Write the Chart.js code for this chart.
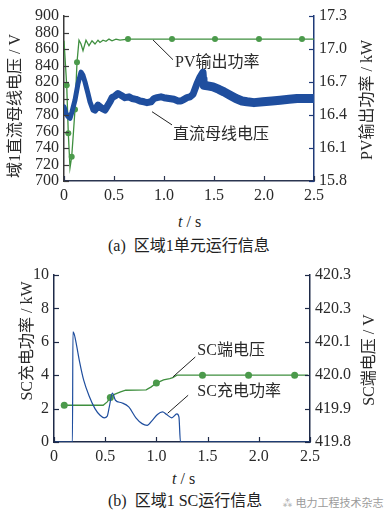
<!DOCTYPE html>
<html>
<head>
<meta charset="utf-8">
<script src="https://cdn.jsdelivr.net/npm/chart.js@4.4.1/dist/chart.umd.min.js"></script>
<style>
  body { margin: 0; background: #fff; }
  #wrap { position: relative; width: 392px; height: 516px; overflow: hidden;
          font-family: 'Liberation Serif', 'DejaVu Serif', 'Noto Sans CJK SC', serif; color: #222; }
  canvas { position: absolute; left: 0; }
  .lbl { position: absolute; white-space: nowrap; font-size: 16px; line-height: 1; }
  .wm { position: absolute; white-space: nowrap; font-size: 11px; color: #9a9a9a;
        font-family: 'Noto Sans CJK SC', sans-serif; }
</style>
</head>
<body>
<div id="wrap">
  <canvas id="topChart" width="392" height="205" style="top:0"></canvas>
  <div class="lbl" style="left:178px;top:214px"><i>t</i> / s</div>
  <div class="lbl" style="left:108px;top:238px">(a)&nbsp; 区域1单元运行信息</div>
  <canvas id="botChart" width="392" height="210" style="top:258px"></canvas>
  <div class="lbl" style="left:172px;top:471px"><i>t</i> / s</div>
  <div class="lbl" style="left:108px;top:493px">(b)&nbsp; 区域1 SC运行信息</div>
  <div class="wm" style="left:282px;top:494px">⁂ 电力工程技术杂志</div>
</div>
<script>
// ---- (a) 区域1单元运行信息 ----
const dcT = [0, 0.02, 0.04, 0.06, 0.08, 0.11, 0.14, 0.17, 0.19, 0.21, 0.24, 0.26, 0.29, 0.31,
  0.34, 0.36, 0.38, 0.41, 0.43, 0.46, 0.48, 0.51, 0.54, 0.57, 0.61, 0.65, 0.68, 0.72, 0.76,
  0.80, 0.83, 0.87, 0.90, 0.93, 0.97, 1.00, 1.05, 1.10, 1.14, 1.17, 1.20, 1.23, 1.26, 1.29,
  1.33, 1.36, 1.39, 1.395, 1.40, 1.45, 1.49, 1.55, 1.60, 1.66, 1.72, 1.78, 1.83, 1.90, 1.99,
  2.08, 2.16, 2.25, 2.33, 2.41, 2.5];
const dcV = [790, 782, 778, 776, 784, 798, 818, 832, 828, 820, 806, 796, 786, 786,
  792, 790, 788, 786, 790, 796, 801, 803, 806, 804, 801, 802, 800, 799, 797,
  796, 795, 796, 800, 801, 802, 801, 800, 799, 797, 797, 799, 801, 802, 805,
  818, 826, 832, 824, 816, 815, 814, 811, 808, 804, 800, 797, 796, 795, 796,
  797, 798, 799, 800, 800, 800];

const pvT = [0, 0.01, 0.027, 0.043, 0.06, 0.077, 0.095, 0.11, 0.13, 0.15, 0.17, 0.19, 0.22,
  0.25, 0.28, 0.31, 0.34, 0.36, 0.39, 0.42, 0.45, 0.48, 0.52, 0.56, 0.64, 1.08, 1.51, 1.95, 2.38, 2.5];
const pvP = [17.075, 16.925, 16.67, 16.235, 15.92, 16.02, 16.25, 16.45, 16.88, 17.08, 17.045,
  16.985, 17.08, 17.03, 17.075, 17.045, 17.08, 17.06, 17.08, 17.07, 17.09, 17.075, 17.09,
  17.08, 17.09, 17.09, 17.09, 17.09, 17.09, 17.09];
const pvMarkT = [0.027, 0.043, 0.077, 0.11, 0.13, 0.64, 1.08, 1.51, 1.95, 2.38];

// ---- (b) 区域1 SC运行信息 ----
const scT = [0, 0.18, 0.185, 0.2, 0.22, 0.25, 0.29, 0.34, 0.40, 0.45, 0.49, 0.52, 0.54, 0.57,
  0.60, 0.66, 0.73, 0.80, 0.86, 0.91, 0.96, 1.01, 1.06, 1.10, 1.15, 1.20, 1.22, 1.235, 2.5];
const scP = [0, 0, 6.6, 6.4, 5.8, 4.8, 3.7, 2.8, 2.0, 1.6, 1.45, 1.55, 2.1, 2.93,
  2.5, 2.35, 2.1, 1.45, 1.1, 1.0, 1.3, 1.65, 1.8, 1.65, 1.45, 1.68, 1.5, 0, 0];

const svT = [0.08, 0.10, 0.30, 0.48, 0.52, 0.55, 0.59, 0.65, 0.70, 0.90, 0.95, 1.00, 1.07,
  1.13, 1.16, 1.20, 1.45, 1.90, 2.35, 2.48];
const svV = [419.91, 419.91, 419.91, 419.91, 419.92, 419.933, 419.9425, 419.95, 419.955,
  419.956, 419.965, 419.9765, 419.986, 419.99, 419.9925, 420.0, 420.0, 420.0, 420.0, 420.0];
const svMarkT = [0.10, 0.55, 1.00, 1.45, 1.90, 2.35];

const xTickLabels = ["0", "0.5", "1.0", "1.5", "2.0", "2.5"];
const dcTickLabels = ["700", "720", "740", "760", "780", "800", "820", "840", "860", "880", "900"];
const pvTickLabels = ["15.8", "16.1", "16.4", "16.7", "17.0", "17.3"];
const scTickLabels = ["0", "2", "4", "6", "8", "10"];
const svTickLabels = ["419.8", "419.9", "420.0", "420.1", "420.3", "420.3"];

const BLUE = "#1f4e9e";
const GREEN = "#3f8f3f";
const MARK = "#4b9a4b";
const FONT = "'Liberation Serif', 'DejaVu Serif', 'Noto Sans CJK SC', serif";

Chart.defaults.font.family = FONT;
Chart.defaults.font.size = 16;
Chart.defaults.color = "#2a2a2a";

function pts(xs, ys) { return xs.map((x, i) => ({ x, y: ys[i] })); }

// inward ticks, rotated axis titles and leader-line notes
const decor = {
  id: "decor",
  afterDraw(chart, args, o) {
    const { ctx, chartArea: a } = chart;
    ctx.save();
    ["x", "yL", "yR"].forEach(id => {
      const s = chart.scales[id];
      ctx.strokeStyle = o.tickColor[id];
      ctx.lineWidth = 1.2;
      s.ticks.forEach((t, i) => {
        const p = Math.round(s.getPixelForTick(i)) + 0.5;
        ctx.beginPath();
        if (id === "x") { ctx.moveTo(p, a.bottom); ctx.lineTo(p, a.bottom - 5); }
        else if (id === "yL") { ctx.moveTo(a.left, p); ctx.lineTo(a.left + 5, p); }
        else { ctx.moveTo(a.right, p); ctx.lineTo(a.right - 5, p); }
        ctx.stroke();
      });
    });
    ctx.fillStyle = "#2a2a2a";
    ctx.font = "16px " + FONT;
    ctx.textAlign = "center";
    ctx.textBaseline = "middle";
    o.titles.forEach(t => {
      ctx.save();
      ctx.translate(t.x, t.y);
      ctx.rotate(-Math.PI / 2);
      ctx.fillText(t.text, 0, 0);
      ctx.restore();
    });
    const sx = chart.scales.x;
    ctx.textAlign = "left";
    o.notes.forEach(n => {
      const sy = chart.scales[n.axis];
      ctx.strokeStyle = "#222";
      ctx.lineWidth = 1;
      ctx.beginPath();
      ctx.moveTo(sx.getPixelForValue(n.from[0]), sy.getPixelForValue(n.from[1]));
      ctx.lineTo(sx.getPixelForValue(n.to[0]), sy.getPixelForValue(n.to[1]));
      ctx.stroke();
      ctx.fillText(n.text, sx.getPixelForValue(n.at[0]), sy.getPixelForValue(n.at[1]));
    });
    ctx.restore();
  }
};

function axes(cfg) {
  return {
    x: {
      type: "linear", min: 0, max: 2.5,
      afterFit: s => { s.height = cfg.xH; },
      grid: { display: false, drawTicks: false },
      border: { display: true, color: cfg.xColor, width: 1.5 },
      ticks: { stepSize: 0.5, padding: 5, maxRotation: 0, autoSkip: false,
               callback: (v, i) => xTickLabels[i] }
    },
    yL: {
      type: "linear", position: "left", min: cfg.lMin, max: cfg.lMax,
      afterFit: s => { s.width = cfg.lW; },
      grid: { display: false, drawTicks: false },
      border: { display: true, color: cfg.lColor, width: 1.5 },
      ticks: { stepSize: cfg.lStep, padding: 5, autoSkip: false,
               callback: (v, i) => cfg.lLabels[i] }
    },
    yR: {
      type: "linear", position: "right", min: cfg.rMin, max: cfg.rMax,
      afterFit: s => { s.width = cfg.rW; },
      grid: { display: false, drawTicks: false },
      border: { display: true, color: cfg.rColor, width: 1.5 },
      ticks: { stepSize: cfg.rStep, padding: 5, autoSkip: false,
               callback: (v, i) => cfg.rLabels[i] }
    }
  };
}

const baseOpts = {
  responsive: false,
  animation: false,
  events: [],
  plugins: { legend: { display: false }, tooltip: { enabled: false } }
};

new Chart(document.getElementById("topChart"), {
  type: "line",
  data: {
    datasets: [
      {
        data: pts(dcT, dcV), yAxisID: "yL", borderColor: BLUE, pointRadius: 0,
        borderJoinStyle: "round", borderCapStyle: "round",
        segment: { borderWidth: c => c.p0.parsed.x < 0.3 ? 5 : (c.p0.parsed.x < 1.4 ? 7 : 9) }
      },
      {
        data: pts(pvT, pvP), yAxisID: "yR", borderColor: GREEN, borderWidth: 1.3,
        pointBackgroundColor: MARK, pointBorderColor: MARK, pointBorderWidth: 0,
        pointRadius: c => pvMarkT.includes(pvT[c.dataIndex]) ? 3 : 0
      }
    ]
  },
  options: {
    ...baseOpts,
    layout: { padding: { top: 16, left: 0, right: 0, bottom: 0 } },
    scales: axes({
      xH: 24, xColor: "#2b3550",
      lMin: 700, lMax: 900, lStep: 20, lW: 64, lColor: "#3a3a3a", lLabels: dcTickLabels,
      rMin: 15.8, rMax: 17.3, rStep: 0.3, rW: 78, rColor: "#1f3a78", rLabels: pvTickLabels
    }),
    plugins: {
      ...baseOpts.plugins,
      decor: {
        tickColor: { x: "#2b3550", yL: "#3a3a3a", yR: "#1f3a78" },
        titles: [
          { text: "域1直流母线电压 / V", x: 16, y: 106 },
          { text: "PV输出功率 / kW", x: 368, y: 100 }
        ],
        notes: [
          { text: "PV输出功率", axis: "yL", from: [0.89, 871], to: [1.09, 847], at: [1.11, 843] },
          { text: "直流母线电压", axis: "yL", from: [0.88, 784], to: [1.08, 768], at: [1.09, 756] }
        ]
      }
    }
  },
  plugins: [decor]
});

new Chart(document.getElementById("botChart"), {
  type: "line",
  data: {
    datasets: [
      {
        data: pts(scT, scP), yAxisID: "yL", borderColor: BLUE, borderWidth: 1.2,
        pointRadius: 0, borderJoinStyle: "round", cubicInterpolationMode: "monotone"
      },
      {
        data: pts(svT, svV), yAxisID: "yR", borderColor: GREEN, borderWidth: 1.3,
        pointBackgroundColor: MARK, pointBorderColor: MARK, pointBorderWidth: 0,
        pointRadius: c => svMarkT.includes(svT[c.dataIndex]) ? 3.5 : 0
      }
    ]
  },
  options: {
    ...baseOpts,
    layout: { padding: { top: 17, left: 0, right: 0, bottom: 0 } },
    scales: axes({
      xH: 26, xColor: "#1e2a48",
      lMin: 0, lMax: 10, lStep: 2, lW: 54, lColor: "#1e2a48", lLabels: scTickLabels,
      rMin: 419.8, rMax: 420.3, rStep: 0.1, rW: 82, rColor: "#1e2a48", rLabels: svTickLabels
    }),
    plugins: {
      ...baseOpts.plugins,
      decor: {
        tickColor: { x: "#1e2a48", yL: "#1e2a48", yR: "#1e2a48" },
        titles: [
          { text: "SC充电功率 / kW", x: 28, y: 83 },
          { text: "SC端电压 / V", x: 370, y: 102 }
        ],
        notes: [
          { text: "SC端电压", axis: "yL", from: [1.16, 3.89], to: [1.38, 5.09], at: [1.40, 5.49] },
          { text: "SC充电功率", axis: "yL", from: [1.11, 1.72], to: [1.31, 2.8], at: [1.40, 2.99] }
        ]
      }
    }
  },
  plugins: [decor]
});
</script>
</body>
</html>
